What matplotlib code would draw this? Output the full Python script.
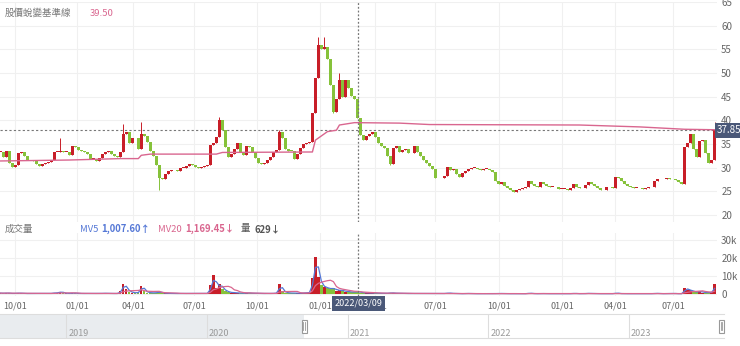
import numpy as np
import pandas as pd
import matplotlib
matplotlib.use("Agg")
import matplotlib.pyplot as plt
import matplotlib.dates as mdates
import matplotlib.transforms as mtransforms
from matplotlib.patches import Rectangle

plt.rcParams["font.family"] = ["Noto Sans CJK TC", "DejaVu Sans"]

# trading calendar (TWSE closures on weekdays)
START = "2020-09-10"
END = "2023-08-30"
TW_HOLIDAYS = [
    "2020-10-01", "2020-10-02", "2020-10-09",
    "2021-01-01", "2021-02-10", "2021-02-11", "2021-02-12", "2021-02-15", "2021-02-16",
    "2021-03-01", "2021-04-02", "2021-04-05", "2021-06-14", "2021-09-20", "2021-09-21",
    "2021-10-11", "2021-12-31",
    "2022-01-27", "2022-01-28", "2022-01-31", "2022-02-01", "2022-02-02", "2022-02-03",
    "2022-02-04", "2022-02-28", "2022-04-04", "2022-04-05", "2022-05-02", "2022-06-03",
    "2022-09-09", "2022-10-10",
    "2023-01-02", "2023-01-18", "2023-01-19", "2023-01-20", "2023-01-23", "2023-01-24",
    "2023-01-25", "2023-01-26", "2023-01-27", "2023-02-27", "2023-02-28", "2023-04-03",
    "2023-04-04", "2023-04-05", "2023-05-01", "2023-06-22", "2023-06-23",
]

# close price, one value every ~3 trading days
CLOSE = [
    33.3, 32.3, 33.6, 31.0, 30.2, 30.5, 33.0, 33.2, 32.4, 31.6,
    31.5, 31.3, 30.8, 30.4, 30.7, 31.0, 31.2, 31.5, 33.3, 33.3,
    33.6, 33.3, 33.4, 32.7, 34.6, 34.3, 33.8, 33.5, 33.2, 32.9,
    31.9, 31.9, 31.3, 32.0, 32.8, 33.3, 33.5, 32.8, 32.5, 32.3,
    33.3, 37.0, 37.6, 35.3, 36.3, 36.2, 34.0, 37.2, 36.6, 35.4,
    33.5, 32.4, 30.5, 27.8, 27.6, 28.6, 29.3, 29.5, 29.4, 29.2,
    29.9, 30.0, 30.3, 30.7, 30.6, 30.2, 29.9, 30.2, 30.4, 30.5,
    34.8, 35.2, 36.5, 40.0, 37.9, 34.4, 32.2, 32.9, 33.9, 35.1,
    33.3, 32.6, 34.6, 34.3, 33.3, 32.0, 31.0, 30.8, 31.0, 31.6,
    32.3, 33.3, 33.8, 37.5, 36.2, 34.0, 33.6, 33.5, 31.8, 32.8,
    34.2, 35.0, 35.3, 35.4, 41.5, 49.0, 56.0, 55.0, 55.5, 53.0,
    47.4, 41.8, 44.5, 48.5, 44.9, 48.5, 46.8, 45.2, 44.5, 40.4,
    36.9, 35.9, 36.6, 37.0, 37.6, 36.5, 35.1, 34.5, 34.1, 32.5,
    30.8, 34.2, 34.5, 33.2, 33.7, 34.0, 33.0, 33.0, 34.6, 33.4,
    32.4, 31.6, 31.0, 30.4, 29.8, 27.9, 27.7, 27.8, 28.3, 30.2,
    29.5, 29.8, 28.7, 28.1, 28.8, 29.3, 29.6, 29.9, 30.0, 29.6,
    29.5, 29.7, 29.7, 29.5, 29.1, 27.2, 26.5, 27.0, 26.2, 25.6,
    25.3, 24.9, 25.2, 25.5, 25.6, 26.0, 27.1, 26.5, 26.2, 26.0,
    27.0, 26.5, 26.2, 26.0, 26.0, 25.8, 25.5, 25.5, 25.5, 25.3,
    25.6, 26.5, 26.0, 25.6, 25.6, 26.3, 27.0, 26.6, 26.1, 25.7,
    25.2, 25.2, 25.8, 26.0, 25.6, 28.0, 27.7, 27.2, 26.5, 26.1,
    25.8, 25.7, 25.7, 25.6, 25.4, 25.6, 25.8, 26.0, 27.2, 27.5,
    27.5, 27.6, 27.9, 27.5, 27.6, 27.3, 27.0, 26.5, 34.4, 35.1,
    37.2, 34.0, 32.3, 35.6, 35.8, 33.1, 30.9, 31.5, 37.85,
]
# wick extremes that stand out (sample index -> price)
WICK_HIGH = {20: 36.2, 41: 39.3, 47: 39.7, 73: 40.6, 93: 37.9, 106: 57.5,
             108: 57.6, 113: 50.0, 238: 39.7}
WICK_LOW = {53: 25.3, 111: 41.5, 130: 30.5, 228: 30.9}

# volume (thousand shares), same sampling
VOLUME = [
    0.7, 0.6, 0.8, 0.6, 0.5, 0.6, 0.7, 0.6, 0.5, 0.5,
    0.5, 0.5, 0.6, 0.5, 0.5, 0.5, 0.5, 0.6, 0.9, 0.8,
    1.6, 0.7, 0.6, 0.5, 0.8, 0.6, 0.5, 0.5, 0.5, 0.5,
    0.6, 0.5, 0.5, 0.5, 0.6, 0.6, 0.5, 0.5, 0.5, 0.5,
    1.8, 6.0, 3.0, 1.5, 1.0, 0.8, 1.2, 4.8, 2.0, 1.0,
    0.9, 0.8, 1.0, 1.4, 0.8, 0.6, 0.6, 0.5, 0.5, 0.5,
    0.5, 0.5, 0.5, 0.6, 0.5, 0.5, 0.5, 0.5, 0.5, 0.6,
    5.0, 10.5, 3.5, 6.0, 3.0, 2.0, 1.2, 1.0, 0.9, 0.8,
    0.7, 0.6, 0.9, 0.7, 0.6, 0.6, 0.5, 0.5, 0.5, 0.5,
    0.5, 0.6, 0.8, 5.5, 2.0, 1.0, 0.8, 0.7, 0.7, 0.6,
    0.7, 0.8, 0.8, 1.2, 9.0, 21.0, 9.5, 5.0, 4.0, 3.5,
    3.0, 3.5, 2.0, 2.5, 2.0, 1.6, 1.5, 1.2, 1.4, 1.5,
    1.0, 0.9, 0.8, 0.8, 0.8, 0.7, 0.6, 0.6, 0.6, 0.6,
    0.9, 0.7, 0.6, 0.6, 0.5, 0.5, 0.5, 0.5, 0.6, 0.5,
    0.5, 0.5, 0.5, 0.5, 0.5, 0.6, 0.5, 0.5, 0.5, 0.8,
    0.6, 0.5, 0.5, 0.4, 0.4, 0.5, 0.5, 0.4, 0.4, 0.4,
    0.4, 0.4, 0.4, 0.4, 0.4, 0.5, 0.5, 0.5, 0.4, 0.4,
    0.4, 0.4, 0.4, 0.4, 0.4, 0.4, 0.7, 0.5, 0.4, 0.4,
    0.5, 0.4, 0.4, 0.4, 0.4, 0.4, 0.4, 0.4, 0.4, 0.4,
    0.4, 0.6, 0.4, 0.4, 0.4, 0.5, 0.6, 0.4, 0.4, 0.4,
    0.4, 0.4, 0.4, 0.4, 0.4, 0.8, 0.5, 0.4, 0.4, 0.4,
    0.4, 0.4, 0.4, 0.4, 0.4, 0.4, 0.4, 0.4, 0.6, 0.5,
    0.4, 0.4, 0.5, 0.4, 0.6, 0.4, 0.4, 0.4, 3.5, 2.5,
    2.2, 1.5, 1.2, 1.8, 1.0, 1.0, 1.0, 1.2, 5.5,
]

# 股價蛻變基準線 (sample index -> value)
BASE_AT = [0, 23, 40, 46, 47, 50, 72, 74, 104, 105, 109, 112, 113, 118, 133, 143, 193, 213, 228, 238]
BASE_VAL = [31.4, 31.6, 31.9, 31.9, 32.6, 32.85, 32.85, 33.2, 33.3, 35.8, 37.6, 37.9, 39.0,
            39.5, 39.4, 39.1, 39.0, 38.6, 38.1, 38.0]

CROSS_DATE = "2022-03-09"
BASE_LABEL = "39.50"
LAST_PRICE = 37.85
MV5_LABEL = "1,007.60↑"
MV20_LABEL = "1,169.45↓"
VOL_LABEL = "629↓"
NAV_START = "2018-07-13"

UP = "#c81e28"
DOWN = "#86c23a"
PINK = "#d9668f"
BLUE = "#5578d6"
GRID = "#f0f0f0"
TXT = "#666666"

W, H = 740, 346


def rect(x0, y0, x1, y1):
    return [x0 / W, 1 - y1 / H, (x1 - x0) / W, (y1 - y0) / H]


days = pd.bdate_range(START, END, freq="C", holidays=TW_HOLIDAYS)
close = np.array(CLOSE)
opens = np.r_[close[0], close[:-1]]
highs = np.maximum(opens, close)
lows = np.minimum(opens, close)
for i, v in WICK_HIGH.items():
    highs[i] = max(highs[i], v)
for i, v in WICK_LOW.items():
    lows[i] = min(lows[i], v)
pos = np.linspace(0, len(days) - 1, len(close))
up = close >= opens
colors = np.where(up, UP, DOWN)

month = days.month
new_month = np.r_[False, month[1:] != month[:-1]]
tick_idx = np.where(new_month & np.isin(month, [1, 4, 7, 10]))[0]
tick_lab = [f"{days[i].month:02d}/01" for i in tick_idx]
cross_idx = days.get_loc(pd.Timestamp(CROSS_DATE))

fig = plt.figure(figsize=(W / 100, H / 100), dpi=100)
ax = fig.add_axes(rect(0, 2, 717, 222))
axv = fig.add_axes(rect(0, 233, 717, 296), sharex=ax)
axn = fig.add_axes(rect(0, 314, 724, 338))

# price panel
body = np.maximum(np.abs(close - opens), 0.12)
ax.vlines(pos, lows, highs, colors=colors, lw=0.7, zorder=3)
ax.bar(pos, body, bottom=np.minimum(opens, close), width=2.6, color=colors, zorder=3)
ax.plot(pos[BASE_AT], BASE_VAL, color=PINK, lw=1.0, zorder=4)
ax.axhline(LAST_PRICE, color="#777777", ls=(0, (2, 2)), lw=0.8, zorder=2)
ax.axvline(cross_idx, color="#777777", ls=(0, (1.5, 1.5)), lw=0.9, zorder=5)
ax.set_ylim(18.5, 64.9)
ax.set_xlim(-0.24, 728.4)
ax.set_yticks(np.arange(20, 70, 5))
ax.yaxis.tick_right()
ax.tick_params(axis="y", length=0, pad=3, labelsize=7, labelcolor=TXT)
ax.tick_params(axis="x", length=0, labelbottom=False)
ax.set_xticks(tick_idx)
ax.grid(True, color=GRID, lw=0.8)
for s in ax.spines.values():
    s.set_visible(False)
ax.text(1.0, LAST_PRICE, f"{LAST_PRICE:.2f}", transform=ax.get_yaxis_transform(),
        ha="left", va="center", fontsize=7, color="white", zorder=10, clip_on=False,
        bbox=dict(boxstyle="square,pad=0.25", fc="#4a5878", ec="none"))

# volume panel
mv5 = pd.Series(VOLUME).rolling(2, min_periods=1).mean()
mv20 = pd.Series(VOLUME).rolling(7, min_periods=1).mean()
axv.bar(pos, VOLUME, width=2.4, color=colors, zorder=3)
axv.plot(pos, mv5, color=BLUE, lw=0.9, zorder=4)
axv.plot(pos, mv20, color=PINK, lw=0.9, zorder=4)
axv.axvline(cross_idx, color="#777777", ls=(0, (1.5, 1.5)), lw=0.9, zorder=5)
axv.set_ylim(-0.9, 34.1)
axv.set_yticks([0, 10, 20, 30])
axv.set_yticklabels(["0", "10k", "20k", "30k"])
axv.yaxis.tick_right()
axv.tick_params(axis="y", length=0, pad=3, labelsize=7, labelcolor=TXT)
axv.set_xticks(tick_idx)
axv.set_xticklabels(tick_lab)
axv.tick_params(axis="x", length=0, pad=4, labelsize=6.5, labelcolor=TXT)
axv.grid(True, color=GRID, lw=0.8)
for s in axv.spines.values():
    s.set_visible(False)
blend = mtransforms.blended_transform_factory(axv.transData, axv.transAxes)
axv.text(cross_idx, -0.045, days[cross_idx].strftime("%Y/%m/%d"), transform=blend,
         ha="center", va="top", fontsize=6.5, color="white", zorder=10, clip_on=False,
         bbox=dict(boxstyle="square,pad=0.3", fc="#4a5878", ec="none"))

# headers
fig.text(5 / W, 1 - 13 / H, "股價蛻變基準線", fontsize=6.8, color="#777777", va="center")
fig.text(90 / W, 1 - 13 / H, BASE_LABEL, fontsize=6.8, color=PINK, va="center")
fig.text(5 / W, 1 - 229 / H, "成交量", fontsize=6.8, color="#777777", va="center")
fig.text(80 / W, 1 - 229 / H, "MV5", fontsize=6.8, color=BLUE, va="center")
fig.text(101 / W, 1 - 229 / H, MV5_LABEL, fontsize=6.8, color=BLUE, va="center", weight="bold")
fig.text(158 / W, 1 - 229 / H, "MV20", fontsize=6.8, color=PINK, va="center")
fig.text(185 / W, 1 - 229 / H, MV20_LABEL, fontsize=6.8, color=PINK, va="center", weight="bold")
fig.text(241 / W, 1 - 229 / H, "量", fontsize=6.8, color="#555555", va="center")
fig.text(255 / W, 1 - 229 / H, VOL_LABEL, fontsize=6.8, color="#555555", va="center", weight="bold")

# navigator
nav_left = pd.Timestamp(NAV_START)
first, last = days[0], days[-1]
axn.set_xlim(nav_left, last + pd.Timedelta(days=6))
axn.set_ylim(0, 1)
axn.axvspan(nav_left, first, color="#e9ecef", lw=0)
for yr in range(2019, 2024):
    d = pd.Timestamp(f"{yr}-01-01")
    axn.axvline(d, color="#dddddd", lw=0.8)
    axn.text(d + pd.Timedelta(days=5), 0.2, str(yr), fontsize=6.5, color="#999999",
             ha="left", va="center")
nblend = mtransforms.blended_transform_factory(axn.transData, axn.transAxes)
for d in (first, last):
    x0 = mdates.date2num(d) - 6
    axn.add_patch(Rectangle((x0, 0.22), 12, 0.55, transform=nblend, fc="white",
                            ec="#999999", lw=0.8, zorder=5, clip_on=False))
    axn.plot([x0 + 4, x0 + 4], [0.35, 0.65], transform=nblend, color="#999999", lw=0.6, zorder=6)
    axn.plot([x0 + 8, x0 + 8], [0.35, 0.65], transform=nblend, color="#999999", lw=0.6, zorder=6)
axn.set_xticks([])
axn.set_yticks([])
for k, s in axn.spines.items():
    s.set_visible(k in ("top", "bottom"))
    s.set_color("#dddddd")
    s.set_linewidth(0.8)

fig.savefig("out.png", dpi=100)
